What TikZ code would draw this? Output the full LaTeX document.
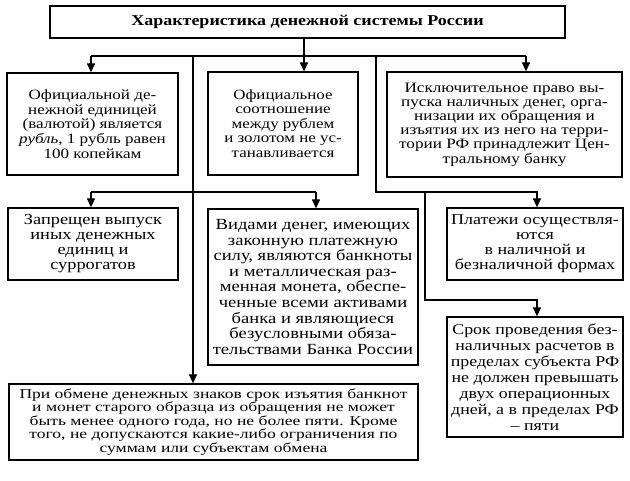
\documentclass[tikz,border=0pt]{standalone}
\usepackage{fontspec}
\setmainfont{Liberation Serif}[FakeStretch=1.2]
\newfontfamily\wideserif{Liberation Serif}[FakeStretch=1.3]
\usetikzlibrary{arrows.meta}
\tikzset{
  box/.style={draw, line width=1.3pt, align=center, inner sep=1pt},
  arr/.style={-{Triangle[length=9pt,width=8pt]}, line width=1.3pt},
  link/.style={line width=1.3pt}
}
\begin{document}
\begin{tikzpicture}[x=1pt, y=-1pt]
\fill[white] (0,0) rectangle (630,481);
\useasboundingbox (0,0) rectangle (630,481);
% boxes
\node[box, minimum width=515, minimum height=32,
  font=\bfseries\fontsize{15}{16}\selectfont] (title) at (307.5,22)
  {Характеристика денежной системы России};
\node[box, minimum width=171, minimum height=102,
  font=\fontsize{14.2}{14.6}\selectfont] (b1) at (92.5,124)
  {Официальной де-\\нежной единицей\\(валютой) является\\\textit{рубль}, 1 рубль равен\\100 копейкам};
\node[box, minimum width=150, minimum height=103,
  font=\fontsize{14.1}{14.6}\selectfont] (b2) at (283,123.5)
  {Официальное\\соотношение\\между рублем\\и золотом не ус-\\танавливается};
\node[box, minimum width=235, minimum height=105,
  font=\fontsize{14.3}{14.2}\selectfont] (b3) at (504.5,124.5)
  {Исключительное право вы-\\пуска наличных денег, орга-\\низации их обращения и\\изъятия их из него на терри-\\тории РФ принадлежит Цен-\\тральному банку};
\node[box, minimum width=170, minimum height=72,
  font=\fontsize{15.3}{15}\selectfont] (b4) at (93,244)
  {Запрещен выпуск\\иных денежных\\единиц и\\суррогатов};
\node[box, minimum width=210, minimum height=156,
  font=\fontsize{15.5}{15.6}\selectfont] (b5) at (313,287)
  {Видами денег, имеющих\\законную платежную\\силу, являются банкноты\\и металлическая раз-\\менная монета, обеспе-\\ченные всеми активами\\банка и являющиеся\\безусловными обяза-\\тельствами Банка России};
\node[box, minimum width=176, minimum height=72,
  font=\fontsize{15}{15}\selectfont] (b6) at (535,244)
  {Платежи осуществля-\\ются\\в наличной и\\безналичной формах};
\node[box, minimum width=176, minimum height=120,
  font=\fontsize{14.9}{16}\selectfont] (b7) at (535,377)
  {Срок проведения без-\\наличных расчетов в\\пределах субъекта РФ\\не должен превышать\\двух операционных\\дней, а в пределах РФ\\– пяти};
\node[box, minimum width=409, minimum height=76,
  font=\wideserif\fontsize{13.5}{13.4}\selectfont] (b8) at (213.5,422)
  {При обмене денежных знаков срок изъятия банкнот\\и монет старого образца из обращения не может\\быть менее одного года, но не более пяти. Кроме\\того, не допускаются какие-либо ограничения по\\суммам или субъектам обмена};
% junctions
\coordinate (top) at (304,56);
\coordinate (h1l) at (91,56);
\coordinate (h1r) at (526,56);
\coordinate (v1) at (193,56);
\coordinate (h2l) at (91,192);
\coordinate (h2r) at (316,192);
\coordinate (v2) at (376,56);
\coordinate (k1) at (376,192);
\coordinate (k2) at (537,192);
\coordinate (k3) at (425,192);
\coordinate (k4) at (425,300);
\coordinate (k5) at (537,300);
% connectors
\draw[link] (top |- title.south) -- (top);
\draw[link] (h1l) -- (h1r);
\draw[arr] (h1l) -- (h1l |- b1.north);
\draw[arr] (top) -- (top |- b2.north);
\draw[arr] (h1r) -- (h1r |- b3.north);
\draw[arr] (v1) -- (v1 |- b8.north);
\draw[link] (h2l) -- (h2r);
\draw[arr] (h2l) -- (h2l |- b4.north);
\draw[arr] (h2r) -- (h2r |- b5.north);
\draw[arr] (v2) -- (k1) -- (k2) -- (k2 |- b6.north);
\draw[arr] (k3) -- (k4) -- (k5) -- (k5 |- b7.north);
\end{tikzpicture}
\end{document}
